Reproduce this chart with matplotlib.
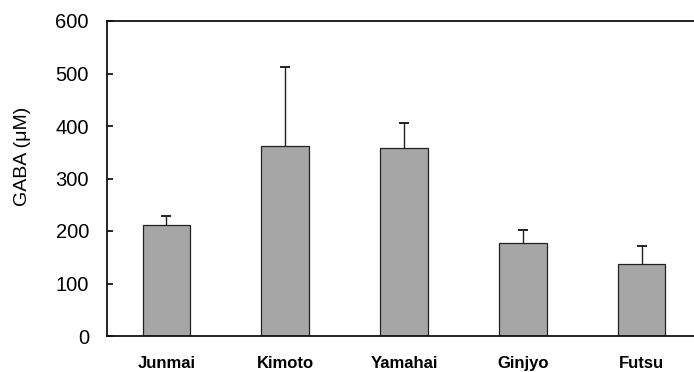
import numpy as np
import matplotlib.pyplot as plt

plt.rcParams['font.family'] = ['Liberation Sans', 'DejaVu Sans']

categories = ["Junmai", "Kimoto", "Yamahai", "Ginjyo", "Futsu"]
gaba = [211, 362, 359, 178, 138]
sd = [18, 151, 47, 24, 34]

fig = plt.figure(figsize=(6.94, 3.72), dpi=100)
ax = fig.add_axes([107 / 694, 1 - 336 / 372, (694 - 107) / 694, (336 - 21) / 372])

x = np.arange(len(categories))
top = np.array(gaba) + np.array(sd)
ax.bar(x, gaba, width=0.40, color="#a6a6a6", edgecolor="#222222", linewidth=0.9, zorder=2)
# only the upper half of the error bar, cap on top
ax.vlines(x, gaba, top, color="#222222", linewidth=1.0, zorder=3)
ax.plot(x, top, linestyle="none", marker="_", markersize=7, markeredgewidth=1.4,
        color="#222222", zorder=3)

ax.set_xlim(-0.5, 4.44)
ax.set_ylim(0, 600)
ax.set_yticks(range(0, 601, 100))
ax.tick_params(axis="y", direction="in", length=4, width=1.2, labelsize=14.5, pad=13)
ax.tick_params(axis="x", length=0, pad=14.5)
ax.set_xticks(x)
ax.set_xticklabels(categories, fontsize=12, fontweight="bold")
ax.set_ylabel("GABA (\u03bcM)", fontsize=14)
ax.yaxis.set_label_coords(-0.129, 0.57)

ax.spines["right"].set_visible(False)
for s in ["left", "top", "bottom"]:
    ax.spines[s].set_linewidth(1.3)
    ax.spines[s].set_color("#111111")

fig.savefig("out.png", dpi=100)
